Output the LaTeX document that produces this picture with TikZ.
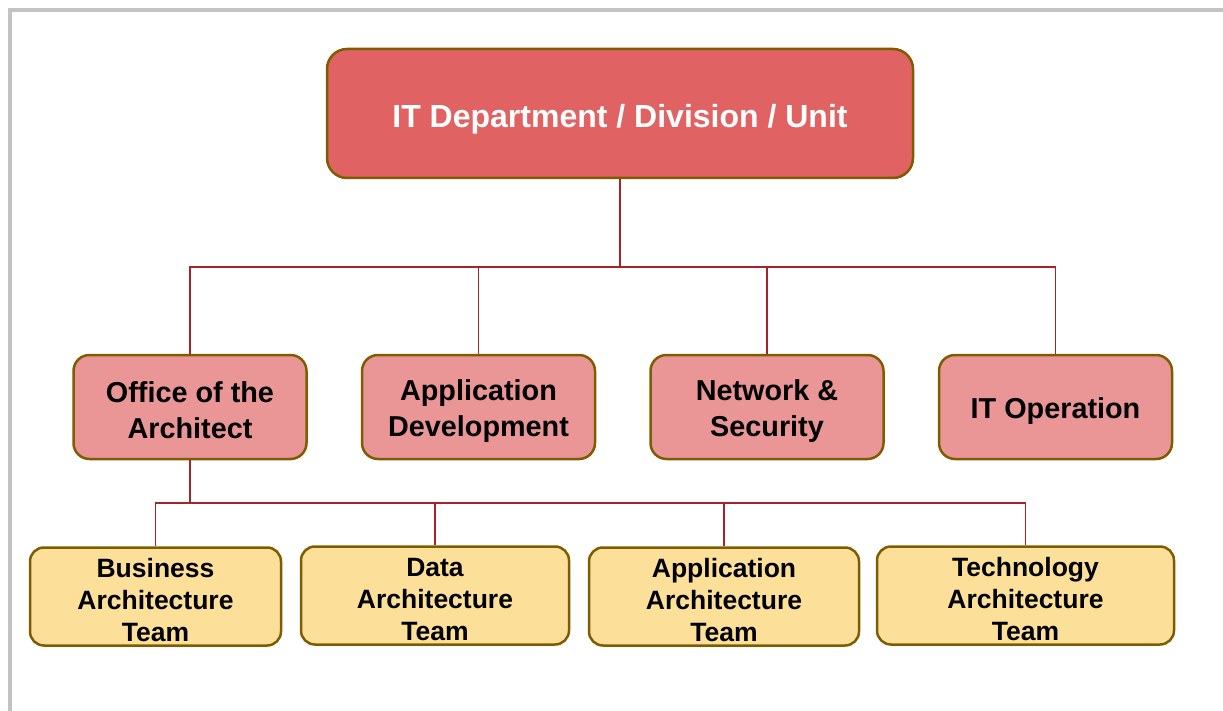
\documentclass[tikz,border=0pt]{standalone}
\usepackage{fontspec}
\setmainfont{Liberation Sans}
\usetikzlibrary{calc}
\definecolor{headfill}{RGB}{224,98,98}
\definecolor{unitfill}{RGB}{234,150,150}
\definecolor{teamfill}{RGB}{252,224,154}
\definecolor{boxedge}{RGB}{127,92,0}
\definecolor{linkred}{RGB}{165,36,42}
\definecolor{framegray}{RGB}{195,195,195}
\newcommand{\lifttext}[1]{\rule{0pt}{#1}}
\tikzset{%
	box/.style={draw=boxedge,line width=2.5pt,align=center,inner sep=0pt},
	head/.style={box,fill=headfill,text=white,rounded corners=20pt,
		minimum width=586pt,minimum height=129pt,
		font=\fontsize{32}{38}\selectfont\bfseries},
	unit/.style={box,fill=unitfill,rounded corners=16pt,
		minimum width=233pt,minimum height=104pt,
		font=\fontsize{28.8}{36}\selectfont\bfseries},
	team/.style={box,fill=teamfill,rounded corners=14pt,
		minimum height=98pt,
		font=\fontsize{26.5}{32}\selectfont\bfseries},
	link/.style={draw=linkred,line width=1.6pt}
}
\begin{document}
\begin{tikzpicture}[x=1pt,y=-1pt]
	\useasboundingbox (0,0) rectangle (1223,711);
	\draw [framegray, line width=4pt] (10,711) -- (10,10) -- (1223,10);
	% top level
	\node [head] (dept) at (620,113.5) {\lifttext{34pt}IT Department / Division / Unit};
	% units
	\node [unit] (office) at (190,407) {\lifttext{28pt}Office of the\\Architect};
	\node [unit] (appdev) at (478.5,407) {\lifttext{29pt}Application\\Development};
	\node [unit] (netsec) at (767,407) {\lifttext{29pt}Network \&\\Security};
	\node [unit] (itop) at (1055.5,407) {\lifttext{28pt}IT Operation};
	% architecture teams
	\node [team, minimum width=251pt] (busarch) at (155.5,596.5) {\lifttext{25.5pt}Business\\Architecture\\Team};
	\node [team, minimum width=268pt] (dataarch) at (435,595.5) {\lifttext{25.5pt}Data\\Architecture\\Team};
	\node [team, minimum width=270pt] (apparch) at (724,596.5) {\lifttext{25.5pt}Application\\Architecture\\Team};
	\node [team, minimum width=297pt] (techarch) at (1025.5,595.5) {\lifttext{25.5pt}Technology\\Architecture\\Team};
	\coordinate (bus1) at (620,267);
	\coordinate (bus2) at (190,503);
	\draw [link] (dept.south) -- (bus1) -| (office.north);
	\draw [link] (dept.south) -- (bus1) -| (appdev.north);
	\draw [link] (dept.south) -- (bus1) -| (netsec.north);
	\draw [link] (dept.south) -- (bus1) -| (itop.north);
	\draw [link] (office.south) -- (bus2) -| (busarch.north);
	\draw [link] (office.south) -- (bus2) -| (dataarch.north);
	\draw [link] (office.south) -- (bus2) -| (apparch.north);
	\draw [link] (office.south) -- (bus2) -| (techarch.north);
	\draw [link, line width=2.8pt] (office.south) -- (bus2) -- (bus2 -| apparch.north);
\end{tikzpicture}
\end{document}
